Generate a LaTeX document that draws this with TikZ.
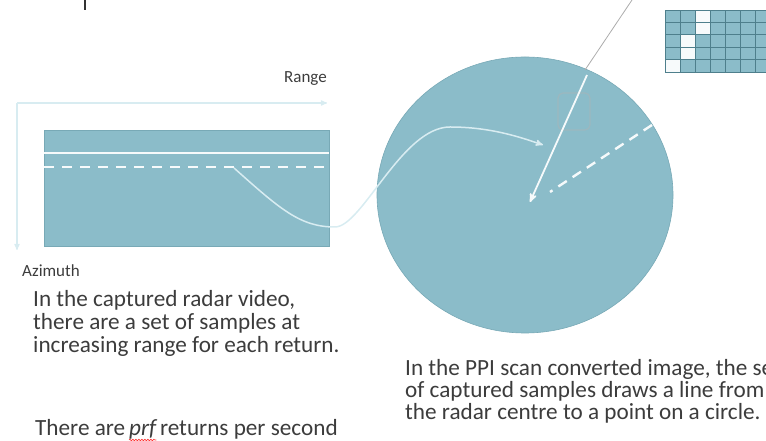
\documentclass[tikz,border=0pt]{standalone}
\usepackage{fontspec}
\setmainfont{Carlito}
\usepackage{xcolor}
\usetikzlibrary{arrows,positioning,decorations.pathmorphing}
\tikzset{>=stealth'}
\definecolor{sea}{HTML}{8BBCC9}
\definecolor{seaedge}{HTML}{78A9B6}
\definecolor{seagrid}{HTML}{4E7F8C}
\definecolor{pale}{HTML}{D8ECF1}
\definecolor{ink}{HTML}{3C3C3C}

\begin{document}
\begin{tikzpicture}[x=1pt, y=1pt,
                          axis/.style={line width=1.2pt, pale, ->},
                          panel/.style={fill=sea, draw=seaedge, line width=0.6pt},
                          trace/.style={line width=1.5pt, pale},
                          mysolid/.style={line width=1.8pt, white!92!sea},
                          mydash/.style={line width=2.6pt, white!92!sea, dash pattern=on 10pt off 8pt},
                          tag/.style={inner sep=0pt, text=ink, font=\fontsize{17}{17}\selectfont},
                          caption/.style={inner sep=0pt, text=ink, align=left},
                          body/.style={font=\fontsize{23.2}{23}\selectfont},
                         ]

\useasboundingbox (0,0) rectangle (766,441);
\clip (0,0) rectangle (766,441);

% title stub at the top edge
\draw[line width=2.5pt, black!80] (85,441) -- (85,431);

% range / azimuth axes
\coordinate (orig) at (17,338);
\coordinate (rangeend) at (327,338);
\coordinate (azend) at (17,191);
\draw[axis] (orig) -- (rangeend);
\draw[axis] (orig) -- (azend);
\node[tag, above left=17pt and 0pt of rangeend] (range) {Range};
\node[tag, below right=15pt and 5pt of azend] (azimuth) {Azimuth};

% captured video block
\draw[panel] (44,195) rectangle (329,311);
\draw[mysolid, line width=2.4pt] (44,288) -- (329,288);
\draw[mydash] (44,274) -- (329,274);

% PPI display
\coordinate (ppi) at (530,239);
\draw[panel] (525,246) ellipse [x radius=148pt, y radius=138pt];

% zoom box and its callout line
\draw[gray!60, opacity=0.45, line width=1.2pt, rounded corners=5pt] (558,311) rectangle (590,348);
\coordinate (zoomtop) at (632,441);
\coordinate (zoomfoot) at (585,371);
\draw[gray!65, line width=0.8pt] (zoomfoot) -- (zoomtop);

% one return traced from the video into the display
\coordinate (sample) at (234,273);
\coordinate (landing) at (543,296);
\draw[trace, ->] (sample) .. controls (280,232) and (300,214) .. (335,214)
                         .. controls (362,214) and (402,314) .. (450,314)
                         .. controls (490,314) and (520,304) .. (landing);

\coordinate (rimA) at (587,366);
\coordinate (rimB) at (652,316);
\draw[mysolid, ->] (rimA) -- (ppi);
\draw[mydash, line width=2.4pt, dash pattern=on 10pt off 7pt] (rimB) -- (550,249);

% magnified pixels
\begin{scope}[shift={(665,369)}]
  \fill[sea] (0,0) rectangle (105,62);
  \foreach \c/\r in {2/4, 2/3, 1/2, 1/1, 0/0}
    \fill[white!93!sea] (15*\c,12.4*\r) rectangle ++(15,12.4);
  \draw[seagrid, line width=0.7pt, xstep=15, ystep=12.4] (0,0) grid (105,62);
  \draw[seagrid, line width=0.9pt] (0,0) rectangle (105,62);
\end{scope}

% notes
\node[caption, body, anchor=north west] (videotext) at (33,151)
  {In the captured radar video,\\there are a set of samples at\\increasing range for each return.};
\node[caption, body, anchor=base west] (prfA) at (35,5) {There are};
\node[caption, body, base right=3.5pt of prfA] (prf) {\itshape prf};
\node[caption, body, base right=3.5pt of prf] (prfB) {returns per second};
\draw[red!80, line width=0.6pt, decorate, decoration={snake, amplitude=0.8pt, segment length=3pt}]
  ([yshift=-4pt]prf.base west) -- ([yshift=-4pt]prf.base east);
\node[caption, body, anchor=north west, font=\fontsize{23.2}{22}\selectfont] (ppitext) at (405,82)
  {In the PPI scan converted image, the set\\of captured samples draws a line from\\the radar centre to a point on a circle.};

\end{tikzpicture}
\end{document}
